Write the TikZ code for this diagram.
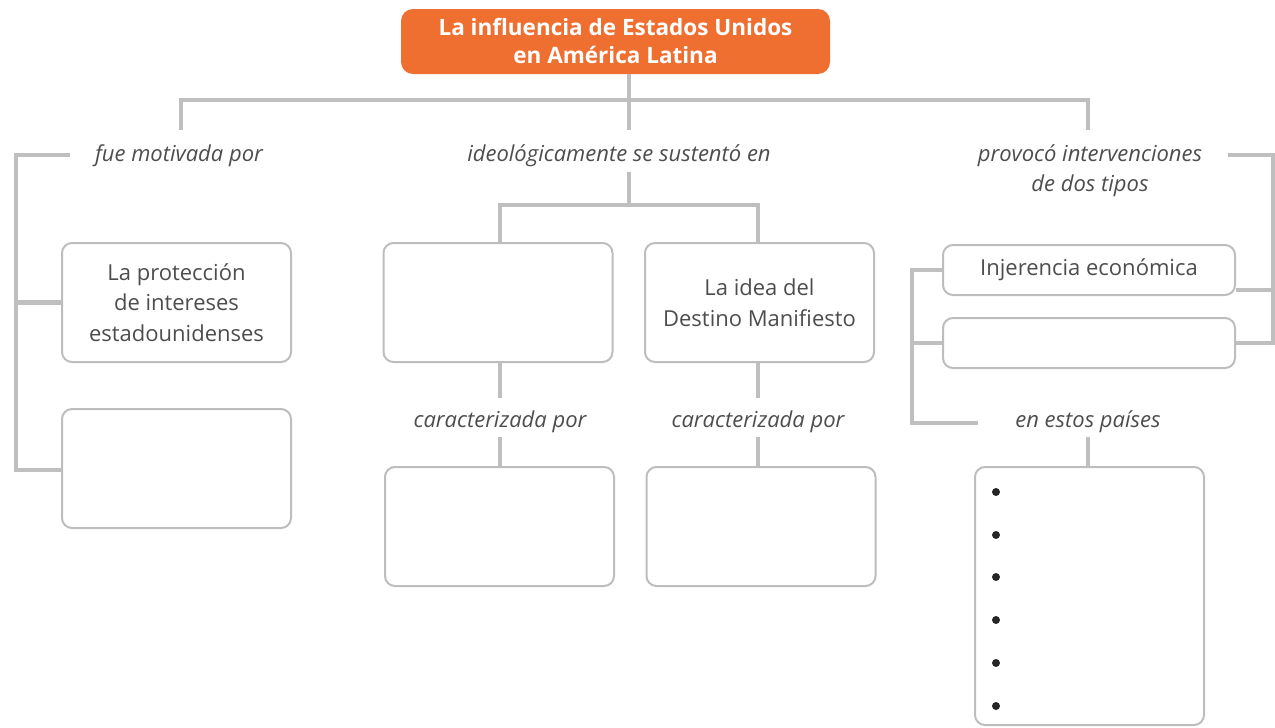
\documentclass[tikz,border=0pt]{standalone}
\usepackage{fontspec}
\setmainfont{Open Sans}
\definecolor{orng}{HTML}{EF6F31}
\definecolor{ln}{HTML}{BFBFBF}
\definecolor{bx}{HTML}{BDBDBD}
\definecolor{tx}{HTML}{4D4D4D}
\begin{document}
\begin{tikzpicture}[x=1pt,y=-1pt,
  box/.style={draw=bx, line width=2pt, rounded corners=10pt, minimum width=229pt,
    minimum height=119pt, align=center, text=tx, inner sep=0pt,
    font=\fontsize{22}{30.5}\selectfont},
  lbl/.style={text=tx, inner sep=2pt, align=center, font=\fontsize{22}{30}\selectfont\itshape},
  conn/.style={draw=ln, line width=4.5pt},
  dot/.style={circle, fill=black!85, inner sep=0pt, minimum size=8pt}]
\useasboundingbox (0,0) rectangle (1275,728);
% title
\node[fill=orng, rounded corners=12pt, minimum width=429pt, minimum height=65pt,
  text=white, align=center, inner sep=0pt,
  font=\fontsize{22.5}{28}\selectfont\bfseries] (title) at (615.5,41.5)
  {La influencia de Estados Unidos\\en América Latina};
\coordinate (hub) at (629,100);
\coordinate (hL) at (181,100);
\coordinate (hR) at (1088,100);
% labels
\node[lbl] (lab1) at (179,156) {fue motivada por};
\node[lbl] (lab2) at (619,156) {ideológicamente se sustentó en};
\node[lbl] (lab3) at (1090,171) {provocó intervenciones\\de dos tipos};
\node[lbl] (lab5) at (500,422) {caracterizada por};
\node[lbl] (lab6) at (758,422) {caracterizada por};
\node[lbl] (lab4) at (1088,422) {en estos países};
% boxes
\node[box] (b1) at (176.5,302.5) {La protección\\de intereses\\estadounidenses};
\node[box] (b2) at (176.5,468.5) {};
\node[box] (b3) at (498,302.5) {};
\node[box] (b4) at (759.5,302.5) {\rule{0pt}{6pt}La idea del\\Destino Manifiesto};
\node[box] (b5) at (499.5,526.5) {};
\node[box] (b6) at (761,526.5) {};
\node[box, minimum width=292pt, minimum height=50pt] (b7) at (1089,270) {Injerencia económica};
\node[box, minimum width=292pt, minimum height=50pt] (b8) at (1089,343) {};
\node[box, minimum height=258pt] (b9) at (1089.5,596) {};
\foreach \i/\yy in {1/492,2/535,3/577,4/620,5/663,6/706}
  \node[dot] (d\i) at (996,\yy) {};
% top connectors
\draw[conn] (title.south -| hub) -- (hub);
\draw[conn] (hL |- 0,130) -- (hL) -- (hR) -- (hR |- 0,130);
\draw[conn] (hub) -- (hub |- 0,130);
% left bracket
\coordinate (lT) at (16,155);
\draw[conn] (70,155) -- (lT) -- (lT |- 0,470) -- (b2.west |- 0,470);
\draw[conn] (lT |- b1.west) -- (b1.west);
% middle
\coordinate (m3) at (500,205);
\coordinate (m4) at (758,205);
\draw[conn] (hub |- 0,172) -- (hub |- m3);
\draw[conn] (m3 |- b3.north) -- (m3) -- (m4) -- (m4 |- b4.north);
\draw[conn] (m3 |- b3.south) -- (m3 |- 0,398);
\draw[conn] (m3 |- 0,437) -- (m3 |- b5.north);
\draw[conn] (m4 |- b4.south) -- (m4 |- 0,398);
\draw[conn] (m4 |- 0,437) -- (m4 |- b6.north);
% right brackets
\coordinate (rT) at (1273,155);
\draw[conn] (1228,155) -- (rT) -- (rT |- b8.east) -- (b8.east);
\draw[conn] (rT |- 0,290) -- (b7.east |- 0,290);
\coordinate (rL) at (912,270);
\draw[conn] (b7.west) -- (rL) -- (rL |- 0,423) -- (978,423);
\draw[conn] (rL |- b8.west) -- (b8.west);
\draw[conn] (1088,437) -- (b9.north -| 1088,0);
\end{tikzpicture}
\end{document}
